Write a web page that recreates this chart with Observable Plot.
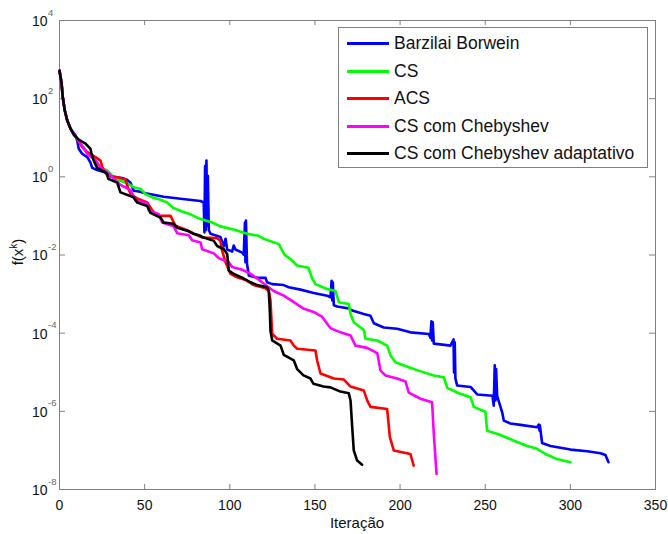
<!DOCTYPE html>
<html>
<head>
<meta charset="utf-8">
<script src="https://cdn.jsdelivr.net/npm/d3@7"></script>
<script src="https://cdn.jsdelivr.net/npm/@observablehq/plot@0.6"></script>
<style>
  html, body { margin: 0; padding: 0; background: #fff; }
  #wrap { position: relative; width: 668px; height: 534px; font-family: "Liberation Sans", Arial, sans-serif; }
  #legend { position: absolute; left: 338px; top: 27px; width: 310px; height: 141px; border: 1px solid #808080; background: #fff; box-sizing: border-box; }
  .row { position: absolute; left: 0; height: 20px; display: flex; align-items: center; }
  .swatch { display: inline-block; width: 42px; height: 3px; margin-left: 8px; margin-right: 5px; }
  .lab { font-size: 17.5px; color: #111; white-space: nowrap; }
  #xlabel { position: absolute; left: 357px; top: 514px; transform: translateX(-50%); font-size: 15px; color: #111; white-space: nowrap; }
  #ylabel { position: absolute; left: 17px; top: 252px; transform: translate(-50%, -50%) rotate(-90deg); font-size: 15px; color: #111; white-space: nowrap; }
  #ylabel sup { font-size: 10px; vertical-align: 6px; }
</style>
</head>
<body>
<div id="wrap"></div>
<script>
// ---- data ----
const xTicks = [0, 50, 100, 150, 200, 250, 300, 350];
const yTicks = [1e-8, 1e-6, 1e-4, 1e-2, 1, 1e2, 1e4];
const yTickBase = ["10", "10", "10", "10", "10", "10", "10"];
const yTickExp = ["-8", "-6", "-4", "-2", "0", "2", "4"];
const seriesNames = ["Barzilai Borwein", "CS", "ACS", "CS com Chebyshev", "CS com Chebyshev adaptativo"];
const seriesColors = ["#0000ff", "#00ff00", "#ff0000", "#ff00ff", "#000000"];

const barzilaiBorwein = [[0,520],[1.2,250],[1.9,110],[3.1,50],[4.5,28],[6.5,17],[9.4,11.5],[10.4,8.5],[11.3,5.2],[13.3,3.9],[16.3,3.2],[18.2,2.3],[19.2,1.7],[22.1,1.5],[27,1.3],[29.9,1.03],[36.8,0.93],[39.8,0.83],[41.7,0.71],[43.6,0.44],[46.6,0.42],[50.5,0.38],[61.2,0.31],[71.1,0.275],[82.8,0.24],[84.7,0.22],[85.1,0.038],[85.5,1.9],[85.9,0.043],[86.3,2.6],[86.7,0.056],[87.1,1.07],[87.7,0.043],[88.7,0.035],[94.5,0.029],[96.5,0.0166],[97.5,0.026],[98.5,0.0138],[101.4,0.0123],[102.3,0.0174],[103.3,0.0138],[107.3,0.0115],[108.2,0.0102],[108.9,0.068],[109.2,0.0065],[109.5,0.076],[110.1,0.006],[111.2,0.003],[116.1,0.0026],[121,0.0026],[121.9,0.002],[124.9,0.0018],[131.7,0.0017],[134.6,0.0015],[141.5,0.0013],[149.3,0.00107],[157.2,9.1e-4],[159.1,8.3e-4],[159.8,2.2e-3],[160.2,6.9e-4],[160.5,2.0e-3],[161.1,5.2e-4],[163.1,4.8e-4],[169.9,4.3e-4],[171.9,3.8e-4],[178.7,3.1e-4],[182.6,2.8e-4],[184.6,1.8e-4],[190.4,1.4e-4],[198.3,1.3e-4],[206.1,1.05e-4],[216.9,9.5e-5],[217.8,7.6e-5],[218.4,2.0e-4],[218.8,6.5e-5],[219.2,1.9e-4],[219.8,5.4e-5],[229.6,4.8e-5],[231.4,6.9e-5],[231.7,9.8e-6],[232.1,5.8e-5],[232.5,6.9e-6],[233.5,4.6e-6],[241.4,4.2e-6],[245.3,2.7e-6],[254.3,2.5e-6],[255,1.4e-6],[255.6,1.5e-5],[256,1.9e-6],[256.4,1.2e-5],[257,2.5e-6],[260,9.3e-7],[260.9,5.8e-7],[264.8,4.9e-7],[270.7,4.5e-7],[280.5,3.9e-7],[281.4,4.6e-7],[281.9,3.2e-7],[282.1,4.4e-7],[283.4,1.55e-7],[288.3,1.3e-7],[300.1,1.05e-7],[309.9,9.5e-8],[317.7,8.5e-8],[320.6,7.6e-8],[322.4,5.0e-8]];

const cs = [[0,520],[1.2,250],[1.9,110],[3.1,50],[4.5,28],[6.5,17],[8.4,12],[10.4,9.5],[16.3,4.2],[21.1,2.6],[24.1,1.7],[28,1.45],[30.9,1.07],[35.8,0.79],[40.5,0.66],[43.5,0.54],[47.6,0.49],[50.5,0.36],[55.2,0.29],[59.3,0.26],[63.2,0.22],[66.9,0.16],[72.1,0.13],[76.9,0.11],[82.8,0.083],[89.7,0.068],[94.5,0.054],[102.2,0.045],[110.2,0.035],[117,0.031],[120,0.026],[128.8,0.019],[132.1,0.0102],[135.6,7.9e-3],[139.6,5.4e-3],[146.2,4.7e-3],[148.4,2.5e-3],[150.3,1.8e-3],[157.2,1.35e-3],[162.1,1.2e-3],[164,6.2e-4],[169.9,5.6e-4],[170.9,3.1e-4],[172.8,1.9e-4],[178.7,1.2e-4],[179.7,7.2e-5],[186.6,6.5e-5],[192.4,4.8e-5],[194.4,2.7e-5],[197.3,1.8e-5],[205.1,1.35e-5],[210.8,1.1e-5],[219.8,8.3e-6],[225.7,7.4e-6],[227.7,4.0e-6],[234.5,2.9e-6],[241.4,2.3e-6],[243.3,1.3e-6],[250.1,9.8e-7],[251.1,3.2e-7],[257.8,2.6e-7],[266.6,1.8e-7],[274.6,1.3e-7],[280.5,1.1e-7],[285.4,8.1e-8],[292.2,6.0e-8],[300.1,5.0e-8]];

const acs = [[0,520],[1.2,250],[1.9,110],[3.1,50],[4.5,28],[6.5,17],[8.4,12],[10,10],[13.3,5.8],[16.3,4.3],[21.1,3.2],[24.1,2.6],[25.1,1.8],[28,1.07],[33.9,0.98],[38.8,0.85],[39.8,0.59],[41.7,0.37],[45.6,0.28],[51.5,0.22],[54.4,0.14],[57.4,0.10],[65.2,0.10],[68.1,0.056],[75,0.043],[78.9,0.035],[83.8,0.028],[92.6,0.027],[94.5,0.023],[95.5,0.013],[97.5,6.5e-3],[100.4,3.3e-3],[104.3,2.7e-3],[109.2,2.3e-3],[114.1,1.7e-3],[121,1.4e-3],[122.9,1.2e-3],[123.9,6.9e-4],[124.9,9.5e-5],[127.8,7.2e-5],[135.6,6.5e-5],[137.6,4.8e-5],[139.6,4.0e-5],[150.3,3.6e-5],[151.3,2.0e-5],[153.3,9.3e-6],[161.1,6.9e-6],[167,6.5e-6],[170.9,4.3e-6],[178.7,3.4e-6],[180.7,1.9e-6],[182.6,1.3e-6],[192.4,1.15e-6],[194,2.2e-7],[196.3,1.0e-7],[206.1,8.1e-8],[208,4.1e-8]];

const csChebyshev = [[0,520],[1.2,250],[1.9,110],[3.1,50],[4.5,28],[6.5,17],[8.4,12],[10.4,9.5],[16.3,3.9],[21.1,2.6],[24.1,1.7],[28,1.3],[30.9,1.0],[35.8,0.62],[41.7,0.46],[44.6,0.25],[51.5,0.21],[52.4,0.14],[58.3,0.11],[60.3,0.068],[67.1,0.054],[69.1,0.036],[75.9,0.032],[77.9,0.024],[82.8,0.021],[83.8,0.014],[90.6,0.011],[93.5,8.3e-3],[99.4,6.5e-3],[101.4,4.9e-3],[107.3,4.2e-3],[112.2,3.3e-3],[116.1,2.5e-3],[121,1.7e-3],[125.8,1.2e-3],[131.7,9.1e-4],[137.6,6.2e-4],[143.5,4.2e-4],[149.3,3.5e-4],[154.3,2.6e-4],[159.1,1.35e-4],[165,1.05e-4],[170.9,8.7e-5],[173.8,4.8e-5],[180.7,4.2e-5],[186.6,3.1e-5],[188.5,1.1e-5],[191.4,8.3e-6],[198.3,6.9e-6],[203.2,5.8e-6],[205.1,3.0e-6],[212,2.1e-6],[218.8,1.7e-6],[219.8,2.7e-7],[221.4,2.5e-8]];

const csChebyshevAdapt = [[0,520],[1.2,250],[1.9,110],[3.1,50],[4.5,28],[6.5,17],[8.4,12],[11.3,8.9],[15.3,7.1],[18.2,5.2],[18.8,3.9],[20.1,2.6],[22.1,1.7],[25.8,1.4],[28,1.2],[28.6,0.89],[33.9,0.71],[35.8,0.40],[43.5,0.30],[45.6,0.22],[51.5,0.18],[53.4,0.12],[59.3,0.091],[61.1,0.068],[66.9,0.063],[69.1,0.05],[75,0.042],[78.7,0.035],[82.8,0.031],[84.7,0.028],[90.6,0.023],[92.6,0.017],[96.5,0.014],[98.5,0.0105],[99.4,0.004],[102.3,0.0033],[108.2,0.0025],[112.2,0.002],[116.1,0.0017],[122,0.0015],[122.9,0.0012],[123.5,3.8e-4],[123.9,1.15e-4],[124.9,6.5e-5],[129.8,4.8e-5],[131.7,2.8e-5],[137.6,2.0e-5],[139.6,1.2e-5],[143.3,8.3e-6],[147.4,6.9e-6],[149.1,5.1e-6],[155,4.3e-6],[159.1,4.1e-6],[165,3.2e-6],[169.9,2.9e-6],[170.9,1.9e-6],[171.9,3.9e-7],[172.8,1e-7],[174.8,5.5e-8],[177.7,4.3e-8]];

const allSeries = [barzilaiBorwein, cs, acs, csChebyshev, csChebyshevAdapt];

// ---- chart ----
const W = 668, H = 534, mL = 59, mR = 13, mT = 20, mB = 45;
const innerW = W - mL - mR, innerH = H - mT - mB;
const axisGray = "#808080";

const chart = Plot.plot({
  width: W, height: H,
  marginLeft: mL, marginRight: mR, marginTop: mT, marginBottom: mB,
  style: { fontFamily: "'Liberation Sans', Arial, sans-serif", background: "#fff", color: "#111" },
  x: { domain: [0, 350], axis: null },
  y: { type: "log", domain: [1e-8, 1e4], axis: null },
  marks: [
    Plot.frame({ stroke: axisGray }),
    Plot.ruleX(xTicks, { x: d => d, insetTop: innerH - 5, stroke: axisGray }),
    Plot.ruleX(xTicks, { x: d => d, insetBottom: innerH - 5, stroke: axisGray }),
    Plot.ruleY(yTicks, { y: d => d, insetRight: innerW - 6, stroke: axisGray }),
    Plot.ruleY(yTicks, { y: d => d, insetLeft: innerW - 6, stroke: axisGray }),
    Plot.axisX(xTicks, { anchor: "bottom", tickSize: 0, tickPadding: 11, fontSize: 14, label: null, tickFormat: d => String(d) }),
    Plot.text(yTicks, { y: d => d, text: (d, i) => yTickBase[i], frameAnchor: "left", textAnchor: "end", dx: -12, dy: 1, fontSize: 14, fill: "#111" }),
    Plot.text(yTicks, { y: d => d, text: (d, i) => yTickExp[i], frameAnchor: "left", textAnchor: "start", dx: -11.5, dy: -8, fontSize: 9.5, fill: "#666" }),
    ...allSeries.map((s, i) => Plot.line(s, { x: d => d[0], y: d => d[1], stroke: seriesColors[i], strokeWidth: 2.6 }))
  ]
});

const wrap = document.getElementById("wrap");
wrap.appendChild(chart);

// legend (real text)
const legend = document.createElement("div");
legend.id = "legend";
seriesNames.forEach((name, i) => {
  const row = document.createElement("div");
  row.className = "row";
  row.style.top = (5.7 + i * 27.5) + "px";
  const sw = document.createElement("span");
  sw.className = "swatch";
  sw.style.background = seriesColors[i];
  const lab = document.createElement("span");
  lab.className = "lab";
  lab.textContent = name;
  row.appendChild(sw);
  row.appendChild(lab);
  legend.appendChild(row);
});
wrap.appendChild(legend);

const xl = document.createElement("div");
xl.id = "xlabel";
xl.textContent = "Iteração";
wrap.appendChild(xl);

const yl = document.createElement("div");
yl.id = "ylabel";
yl.innerHTML = "f(x<sup>k</sup>)";
wrap.appendChild(yl);
</script>
</body>
</html>
